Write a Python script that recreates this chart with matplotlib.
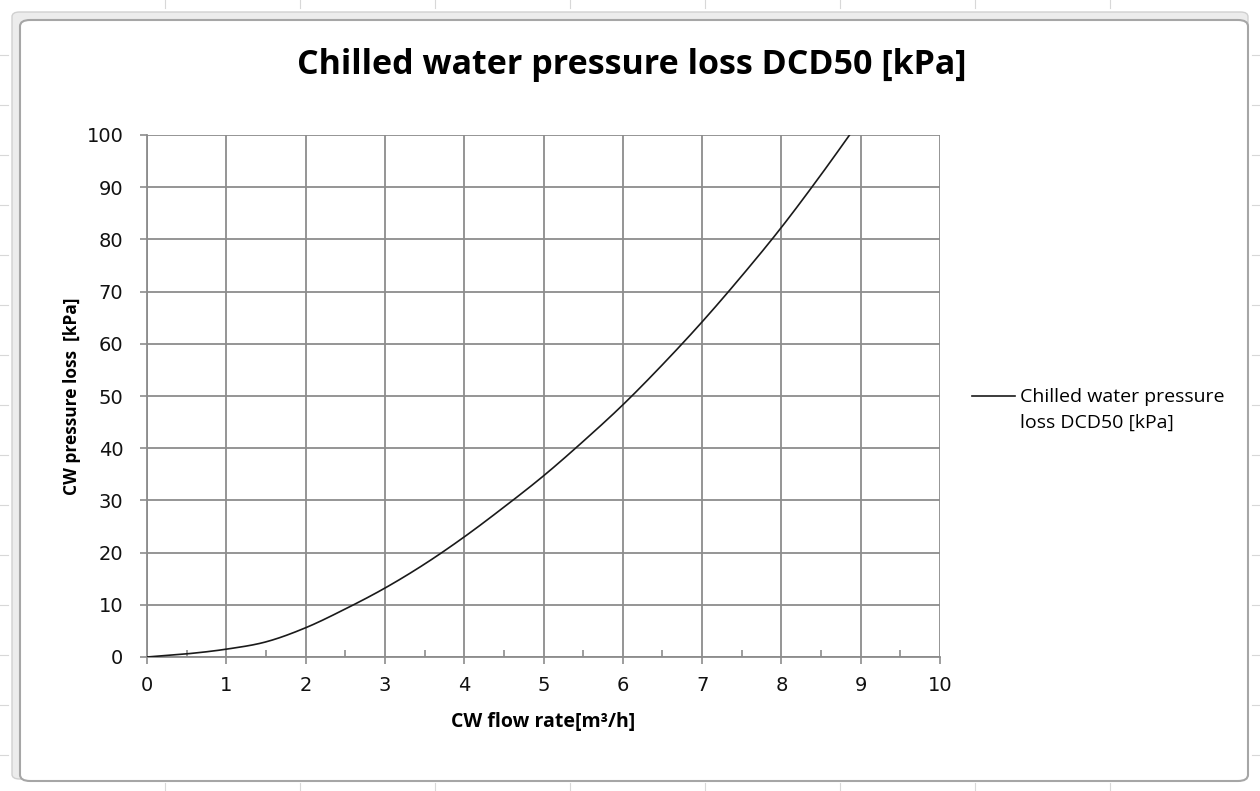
import matplotlib
matplotlib.use("Agg")
import matplotlib.pyplot as plt
from matplotlib.patches import FancyBboxPatch
from matplotlib.ticker import MultipleLocator
import numpy as np

# flow rate [m3/h] and pressure loss [kPa]
flow = [0, 0.5, 1, 1.5, 2, 2.5, 3, 3.5, 4, 4.5, 5, 5.5, 6, 6.5, 7, 7.5, 8, 8.5, 9]
loss = [0, 0.6, 1.5, 2.9, 5.6, 9.2, 13.2, 17.8, 23.0, 28.7, 34.7, 41.3, 48.3, 56.0, 64.2, 73.0, 82.3, 92.4, 103.0]

title = "Chilled water pressure loss DCD50 [kPa]"
series_name = "Chilled water pressure\nloss DCD50 [kPa]"

fig = plt.figure(figsize=(12.6, 7.91), dpi=100)
fig.patch.set_facecolor("white")

# spreadsheet grid around the chart object
W, H = 1260, 791
for yy in [55, 105, 155, 205, 255, 305, 355, 405, 455, 505, 555, 605, 655, 705, 755]:
    fig.add_artist(plt.Line2D([0, 8 / W], [1 - yy / H] * 2, color="#d8d8d8", lw=0.8))
    fig.add_artist(plt.Line2D([1 - 8 / W, 1], [1 - yy / H] * 2, color="#d8d8d8", lw=0.8))
for xx in [165, 300, 435, 570, 705, 840, 975, 1110]:
    fig.add_artist(plt.Line2D([xx / W] * 2, [1 - 8 / H, 1], color="#d8d8d8", lw=0.8))
    fig.add_artist(plt.Line2D([xx / W] * 2, [0, 8 / H], color="#d8d8d8", lw=0.8))

outer = FancyBboxPatch((12 / W, 12 / H), 1 - 24 / W, 1 - 24 / H,
                       boxstyle="round,pad=0,rounding_size=0.006",
                       transform=fig.transFigure, facecolor="#ececec",
                       edgecolor="#d0d0d0", lw=1.0, zorder=-2)
inner = FancyBboxPatch((20 / W, 10 / H), 1 - 32 / W, 1 - 30 / H,
                       boxstyle="round,pad=0,rounding_size=0.008",
                       transform=fig.transFigure, facecolor="white",
                       edgecolor="#a6a6a6", lw=1.5, zorder=-1)
fig.add_artist(outer)
fig.add_artist(inner)

ax = fig.add_axes([147 / W, 1 - 657 / H, (940 - 147) / W, (657 - 135) / H])
ax.set_facecolor("none")

# smooth the series with a cubic hermite through the points
xs = np.array(flow, dtype=float)
ys = np.array(loss, dtype=float)
x_smooth = np.linspace(xs[0], xs[-1], 400)
d = np.diff(ys) / np.diff(xs)
m = np.concatenate([[d[0]], (d[:-1] + d[1:]) / 2, [d[-1]]])
idx = np.clip(np.searchsorted(xs, x_smooth) - 1, 0, len(xs) - 2)
h = xs[idx + 1] - xs[idx]
t = (x_smooth - xs[idx]) / h
h00 = 2 * t**3 - 3 * t**2 + 1
h10 = t**3 - 2 * t**2 + t
h01 = -2 * t**3 + 3 * t**2
h11 = t**3 - t**2
y_smooth = h00 * ys[idx] + h10 * h * m[idx] + h01 * ys[idx + 1] + h11 * h * m[idx + 1]

ax.plot(x_smooth, y_smooth, color="#1a1a1a", lw=1.2, label=series_name, zorder=3)

ax.set_xlim(0, 10)
ax.set_ylim(0, 100)
ax.xaxis.set_major_locator(MultipleLocator(1))
ax.xaxis.set_minor_locator(MultipleLocator(0.5))
ax.yaxis.set_major_locator(MultipleLocator(10))
ax.grid(True, which="major", color="#8c8c8c", lw=1.3)
ax.set_axisbelow(True)
for s in ["top", "right"]:
    ax.spines[s].set_visible(False)
for s in ["left", "bottom"]:
    ax.spines[s].set_color("#8c8c8c")
    ax.spines[s].set_linewidth(1.3)
ax.tick_params(which="major", direction="out", length=5, color="#8c8c8c", width=1.2,
               labelsize=14, labelcolor="#111111")
ax.tick_params(axis="x", which="major", pad=9)
ax.tick_params(axis="y", which="major", pad=12)
ax.tick_params(axis="x", which="minor", direction="in", length=5, color="#8c8c8c", width=1.2)
for lab in ax.get_xticklabels() + ax.get_yticklabels():
    lab.set_family("DejaVu Sans")

ax.set_xlabel("CW flow rate[m\u00b3/h]", family="Open Sans", fontweight="bold", fontsize=14,
              labelpad=12)
ax.set_ylabel("CW pressure loss  [kPa]", family="Open Sans", fontweight="bold", fontsize=12.5,
              labelpad=4)

fig.text(632 / W, 1 - 65 / H, title, ha="center", va="center", family="Open Sans",
         fontweight="bold", fontsize=24.5)

leg = ax.legend(loc="center left", bbox_to_anchor=(972 / W, 1 - 410 / H),
                bbox_transform=fig.transFigure, frameon=False, handlelength=2.2,
                handletextpad=0.25, borderpad=0, borderaxespad=0,
                prop={"family": "Open Sans", "size": 14})
for txt in leg.get_texts():
    txt.set_linespacing(1.6)
# keep the legend line level with the first text line
handle = leg.get_lines()[0]
handle.set_ydata(np.asarray(handle.get_ydata()) + 10.5)

fig.savefig("out.png", dpi=100)
